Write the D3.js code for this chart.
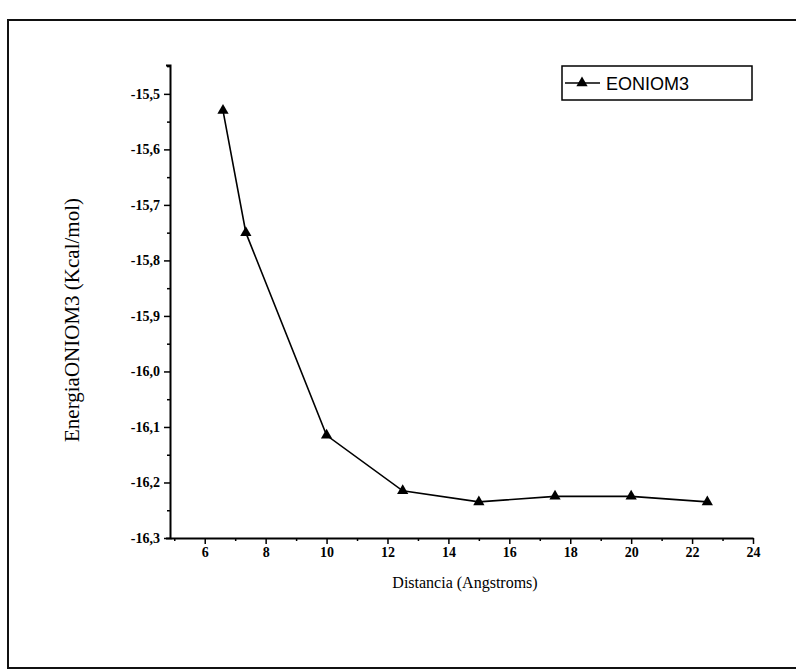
<!DOCTYPE html>
<html>
<head>
<meta charset="utf-8">
<script src="https://cdn.jsdelivr.net/npm/d3@7"></script>
<style>
  html, body { margin: 0; padding: 0; background: #fff; }
  svg { display: block; }
</style>
</head>
<body>
<svg id="chart" width="796" height="672"></svg>
<script>
// ---- data ----
const seriesName = "EONIOM3";
const distances = [6.6, 7.35, 10, 12.5, 15, 17.5, 20, 22.5];
const energies = [-15.53, -15.75, -16.115, -16.215, -16.235, -16.225, -16.225, -16.235];
const xTicks = [6, 8, 10, 12, 14, 16, 18, 20, 22, 24];
const xMinorTicks = [5, 7, 9, 11, 13, 15, 17, 19, 21, 23];
const yTicks = [-16.3, -16.2, -16.1, -16.0, -15.9, -15.8, -15.7, -15.6, -15.5];
const yMinorTicks = [-16.25, -16.15, -16.05, -15.95, -15.85, -15.75, -15.65, -15.55, -15.45];
const xTitle = "Distancia (Angstroms)";
const yTitle = "EnergiaONIOM3 (Kcal/mol)";

const svg = d3.select("#chart");
const serif = "'Liberation Serif', 'Times New Roman', serif";
const sans = "'Liberation Sans', Arial, sans-serif";

// outer frame (right edge lies outside the picture)
svg.append("rect").attr("x", 8).attr("y", 20).attr("width", 820).attr("height", 648)
  .attr("fill", "none").attr("stroke", "#111").attr("stroke-width", 2);

const x = d3.scaleLinear().domain([4.86, 24]).range([170, 753]);
const y = d3.scaleLinear().domain([-16.3, -15.448]).range([538, 65]);

const loc = d3.formatLocale({decimal: ",", thousands: ".", grouping: [3], currency: ["", ""], minus: "-"});
const fmt1 = loc.format(".1f");

// y axis
const gy = svg.append("g").attr("transform", `translate(${x.range()[0]},0)`)
  .call(d3.axisLeft(y).tickValues(yTicks).tickFormat(fmt1).tickSize(6).tickSizeOuter(4).tickPadding(4));
gy.select(".domain").attr("stroke", "#000").attr("stroke-width", 2);
gy.selectAll(".tick line").attr("stroke-width", 1.5);
gy.selectAll(".tick text").attr("font-family", serif).attr("font-size", 14).attr("font-weight", "bold").attr("fill", "#000");
svg.append("g").attr("transform", `translate(${x.range()[0]},0)`)
  .call(d3.axisLeft(y).tickValues(yMinorTicks).tickFormat("").tickSize(3).tickSizeOuter(0))
  .call(g => g.select(".domain").remove())
  .selectAll(".tick line").attr("stroke-width", 1.5);

// x axis
const gx = svg.append("g").attr("transform", `translate(0,${y.range()[0]})`)
  .call(d3.axisBottom(x).tickValues(xTicks).tickFormat(d3.format("d")).tickSize(6).tickSizeOuter(0).tickPadding(3));
gx.select(".domain").attr("stroke", "#000").attr("stroke-width", 2);
gx.selectAll(".tick line").attr("stroke-width", 1.5);
gx.selectAll(".tick text").attr("font-family", serif).attr("font-size", 14).attr("font-weight", "bold").attr("fill", "#000");
svg.append("g").attr("transform", `translate(0,${y.range()[0]})`)
  .call(d3.axisBottom(x).tickValues(xMinorTicks).tickFormat("").tickSize(3).tickSizeOuter(0))
  .call(g => g.select(".domain").remove())
  .selectAll(".tick line").attr("stroke-width", 1.5);

// titles
svg.append("text").attr("x", 465).attr("y", 588)
  .attr("text-anchor", "middle").attr("font-family", serif).attr("font-size", 16).attr("fill", "#000")
  .text(xTitle);
svg.append("text").attr("transform", `translate(79,320) rotate(-90)`)
  .attr("text-anchor", "middle").attr("font-family", serif).attr("font-size", 21).attr("fill", "#000")
  .text(yTitle);

// series
const pts = distances.map((d, i) => [d, energies[i]]);
svg.append("path").datum(pts)
  .attr("fill", "none").attr("stroke", "#000").attr("stroke-width", 1.6)
  .attr("d", d3.line().x(d => x(d[0])).y(d => y(d[1])));
const tri = d3.symbol().type(d3.symbolTriangle).size(55);
svg.append("g").selectAll("path").data(pts).join("path")
  .attr("transform", d => `translate(${x(d[0])},${y(d[1])})`)
  .attr("d", tri).attr("fill", "#000");

// legend
const lg = svg.append("g").attr("transform", "translate(562,66)");
lg.append("rect").attr("width", 190).attr("height", 34).attr("fill", "#fff")
  .attr("stroke", "#000").attr("stroke-width", 1.5);
lg.append("line").attr("x1", 3).attr("x2", 38).attr("y1", 17).attr("y2", 17)
  .attr("stroke", "#000").attr("stroke-width", 1.5);
lg.append("path").attr("transform", "translate(20,17)").attr("d", tri).attr("fill", "#000");
lg.append("text").attr("x", 44).attr("y", 24).attr("font-family", sans).attr("font-size", 18)
  .attr("fill", "#000").text(seriesName);
</script>
</body>
</html>
